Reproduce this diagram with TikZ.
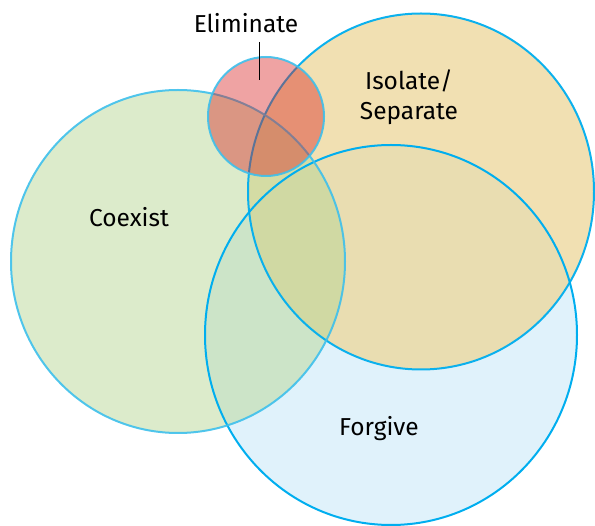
\documentclass[tikz,border=0pt]{standalone}
\usepackage{fontspec}
\setmainfont{Fira Sans}
\definecolor{forgivefill}{RGB}{224,242,251}
\definecolor{isofill}{RGB}{237,215,155}
\definecolor{coexfill}{RGB}{185,215,151}
\definecolor{elimfill}{RGB}{215,25,25}
\definecolor{strongblue}{RGB}{0,174,239}
\definecolor{softblue}{RGB}{62,192,236}
\tikzset{
  setcircle/.style={line width=2pt},
  lbl/.style={font=\fontsize{24.5}{30}\selectfont, align=center, inner sep=0pt, text=black},
}
\begin{document}
\begin{tikzpicture}[x=1pt,y=-1pt]
\useasboundingbox (0,0) rectangle (595,526);
\coordinate (cf) at (391,335);
\coordinate (ci) at (421,191.5);
\coordinate (cc) at (178,261.5);
\coordinate (ce) at (266,116.5);
% fills
\fill[forgivefill] (cf) ellipse [x radius=186, y radius=190];
\fill[isofill, fill opacity=0.77] (ci) ellipse [x radius=173, y radius=178];
\fill[coexfill, fill opacity=0.5] (cc) ellipse [x radius=167, y radius=171.5];
% borders
\draw[setcircle, strongblue] (cf) ellipse [x radius=186, y radius=190];
\draw[setcircle, strongblue, draw opacity=0.95] (ci) ellipse [x radius=173, y radius=178];
\draw[setcircle, softblue, draw opacity=0.9] (cc) ellipse [x radius=167, y radius=171.5];
% Eliminate on top
\fill[elimfill, fill opacity=0.4] (ce) ellipse [x radius=58, y radius=59.5];
\draw[setcircle, softblue, draw opacity=0.9] (ce) ellipse [x radius=58, y radius=59.5];
% labels
\node[lbl] (elim) at (246,23) {Eliminate};
\coordinate (leadtop) at (259,42);
\coordinate (leadbot) at (259,80);
\draw[line width=1pt, black] (leadtop) -- (leadbot);
\node[lbl] (coex) at (129,217.5) {Coexist};
\node[lbl] (iso) at (409,97) {Isolate/\\Separate};
\node[lbl] (forg) at (379,429) {Forgive};
\end{tikzpicture}
\end{document}
